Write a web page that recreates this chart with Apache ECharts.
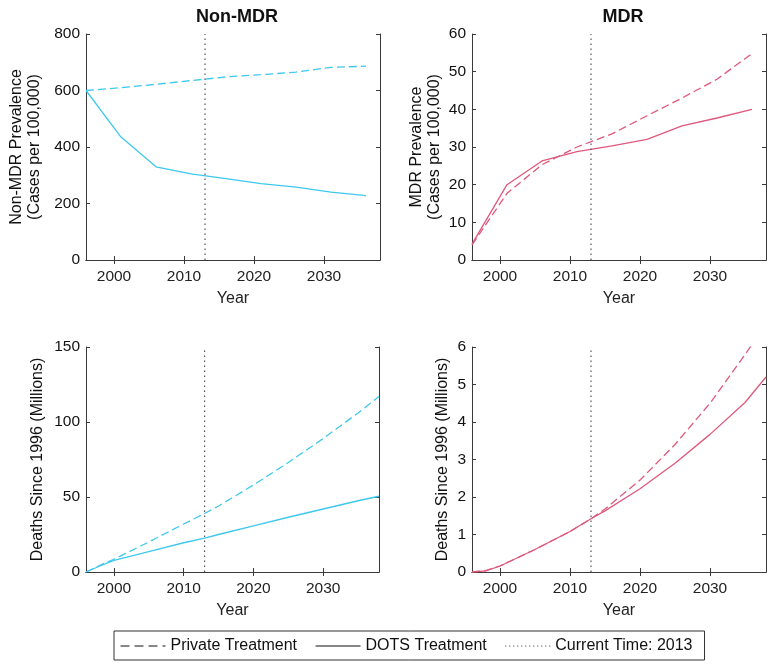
<!DOCTYPE html>
<html>
<head>
<meta charset="utf-8">
<script src="https://cdn.jsdelivr.net/npm/echarts@6/dist/echarts.min.js"></script>
<style>
html,body{margin:0;padding:0;background:#fff;}
#chart{width:775px;height:668px;}
</style>
</head>
<body>
<div id="chart"></div>
<script>
// ---- data ----
const panelTitles = ['Non-MDR', 'MDR'];
const currentYear = 2013;
const xTicks = [2000, 2010, 2020, 2030];

const yearsPrev = [1996, 2001, 2006, 2011, 2016, 2021, 2026, 2031, 2036];
const nonMdrPrevPrivate = [600, 610, 622, 635, 648, 656, 665, 682, 686];
const nonMdrPrevDots = [600, 435, 330, 305, 288, 270, 258, 240, 228];
const mdrPrevPrivate = [4, 17.7, 25.3, 30, 33.5, 38.3, 43, 48, 54.8];
const mdrPrevDots = [4.2, 20, 26.3, 28.8, 30.3, 32, 35.6, 37.7, 40];

const yearsDeaths = [1996, 1998, 2000, 2005, 2010, 2013, 2015, 2020, 2025, 2030, 2035, 2038];
const nonMdrDeathsPrivate = [0, 4.5, 8.5, 20, 32, 39, 44, 58, 73, 89, 106, 117];
const nonMdrDeathsDots = [0, 4, 7.8, 13.6, 19.5, 22.6, 25, 30.8, 36.5, 42, 47.5, 50.5];
const mdrDeathsPrivate = [0, 0.04, 0.16, 0.6, 1.08, 1.42, 1.68, 2.45, 3.4, 4.5, 5.8, 6.6];
const mdrDeathsDots = [0, 0.03, 0.16, 0.6, 1.08, 1.42, 1.63, 2.22, 2.9, 3.67, 4.52, 5.2];

const yMax = [800, 60, 150, 6];
const yInterval = [200, 10, 50, 1];
const yNames = [
  'Non-MDR Prevalence\n(Cases per 100,000)',
  'MDR Prevalence\n(Cases per 100,000)',
  'Deaths Since 1996 (Millions)',
  'Deaths Since 1996 (Millions)'
];
const seriesNames = ['Private Treatment', 'DOTS Treatment', 'Current Time: 2013'];

// ---- styling / layout ----
const FONT = 'Liberation Sans, Arial, sans-serif';
const CYAN = '#3ec8ee';
const PINK = '#e0587c';
const AXIS = '#3a3a3a';
const grids = [
  {left: 86, top: 34, width: 294, height: 226},
  {left: 472, top: 34, width: 294, height: 226},
  {left: 86, top: 347, width: 293, height: 225},
  {left: 472, top: 347, width: 294, height: 225}
];
const yNameGap = [42, 28, 39, 20];
const xNameGap = [31, 31, 31, 31];

const panels = [
  {years: yearsPrev, priv: nonMdrPrevPrivate, dots: nonMdrPrevDots, color: CYAN},
  {years: yearsPrev, priv: mdrPrevPrivate, dots: mdrPrevDots, color: PINK},
  {years: yearsDeaths, priv: nonMdrDeathsPrivate, dots: nonMdrDeathsDots, color: CYAN},
  {years: yearsDeaths, priv: mdrDeathsPrivate, dots: mdrDeathsDots, color: PINK}
];

const xAxes = [], yAxes = [], series = [];
const axisLine = {show: true, lineStyle: {color: AXIS, width: 1}};
panels.forEach((p, i) => {
  xAxes.push({
    type: 'value', gridIndex: i, min: 1996, max: 2038, position: 'bottom',
    name: 'Year', nameLocation: 'middle', nameGap: xNameGap[i],
    nameTextStyle: {fontFamily: FONT, fontSize: 16, color: '#222'},
    axisLine: axisLine,
    axisTick: {show: true, inside: true, length: 4, customValues: xTicks, lineStyle: {color: AXIS}},
    axisLabel: {show: true, customValues: xTicks, margin: 9, fontFamily: FONT, fontSize: 15.5, color: '#222',
      formatter: v => String(v)},
    splitLine: {show: false}
  });
  xAxes.push({
    type: 'value', gridIndex: i, min: 1996, max: 2038, position: 'top',
    axisLine: axisLine,
    axisTick: {show: true, inside: true, length: 4, customValues: xTicks, lineStyle: {color: AXIS}},
    axisLabel: {show: false},
    splitLine: {show: false}
  });
  yAxes.push({
    type: 'value', gridIndex: i, min: 0, max: yMax[i], interval: yInterval[i], position: 'left',
    name: yNames[i], nameLocation: 'middle', nameGap: yNameGap[i], nameRotate: 90,
    nameTextStyle: {fontFamily: FONT, fontSize: 16, color: '#111', lineHeight: 18},
    axisLine: axisLine,
    axisTick: {show: true, inside: true, length: 4, lineStyle: {color: AXIS}},
    axisLabel: {show: true, margin: 6, fontFamily: FONT, fontSize: 15.5, color: '#111'},
    splitLine: {show: false}
  });
  yAxes.push({
    type: 'value', gridIndex: i, min: 0, max: yMax[i], interval: yInterval[i], position: 'right',
    axisLine: axisLine,
    axisTick: {show: true, inside: true, length: 4, lineStyle: {color: AXIS}},
    axisLabel: {show: false},
    splitLine: {show: false}
  });
  const xi = i * 2, yi = i * 2;
  series.push({
    name: seriesNames[0], type: 'line', xAxisIndex: xi, yAxisIndex: yi,
    symbol: 'none', clip: true, silent: true,
    lineStyle: {color: p.color, width: 1.3, type: [8, 4]},
    itemStyle: {color: p.color},
    data: p.years.map((y, k) => [y, p.priv[k]])
  });
  series.push({
    name: seriesNames[1], type: 'line', xAxisIndex: xi, yAxisIndex: yi,
    symbol: 'none', clip: true, silent: true,
    lineStyle: {color: p.color, width: 1.3, type: 'solid'},
    itemStyle: {color: p.color},
    data: p.years.map((y, k) => [y, p.dots[k]])
  });
  series.push({
    name: seriesNames[2], type: 'line', xAxisIndex: xi, yAxisIndex: yi,
    symbol: 'none', silent: true,
    lineStyle: {color: '#555', width: 1.2, type: [1.5, 3.5]},
    itemStyle: {color: '#555'},
    data: [[currentYear, 0], [currentYear, yMax[i]]]
  });
});

const hidden = {color: 'rgba(0,0,0,0)', borderColor: 'rgba(0,0,0,0)', borderWidth: 0, opacity: 0};
const chart = echarts.init(document.getElementById('chart'), null, {renderer: 'canvas'});
chart.setOption({
  animation: false,
  backgroundColor: '#fff',
  title: [
    {text: panelTitles[0], left: 232, top: 3, textAlign: 'center',
     textStyle: {fontFamily: FONT, fontSize: 18, fontWeight: 'bold', color: '#111'}},
    {text: panelTitles[1], left: 618, top: 3, textAlign: 'center',
     textStyle: {fontFamily: FONT, fontSize: 18, fontWeight: 'bold', color: '#111'}}
  ],
  grid: grids,
  xAxis: xAxes,
  yAxis: yAxes,
  legend: {
    left: 114, top: 631, orient: 'horizontal',
    padding: [7, 12, 6, 6], itemWidth: 45, itemHeight: 10, itemGap: 18,
    borderColor: '#333', borderWidth: 1, backgroundColor: '#fff',
    selectedMode: false,
    textStyle: {fontFamily: FONT, fontSize: 16, color: '#111'},
    data: [
      {name: seriesNames[0], lineStyle: {color: '#111', type: [9, 5], width: 1}, itemStyle: hidden},
      {name: seriesNames[1], lineStyle: {color: '#111', type: 'solid', width: 1}, itemStyle: hidden},
      {name: seriesNames[2], lineStyle: {color: '#333', type: [1, 3], width: 1}, itemStyle: hidden}
    ]
  },
  series: series
});
</script>
</body>
</html>
